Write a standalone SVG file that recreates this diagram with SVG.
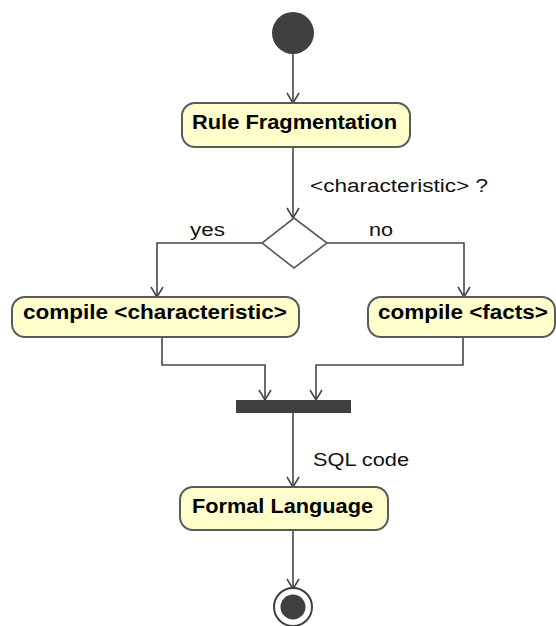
<svg xmlns="http://www.w3.org/2000/svg" width="556" height="626" viewBox="0 0 556 626">
<defs>
<style>
.act{fill:#ffffcc;stroke:#5a5a5a;stroke-width:2}
.at{font-family:"Liberation Sans",Arial,sans-serif;font-weight:bold;font-size:21px;fill:#000}
.lb{font-family:"Liberation Sans",Arial,sans-serif;font-size:18px;fill:#111}
.edge{fill:none;stroke:#474747;stroke-width:1.6}
</style>
<marker id="arr" viewBox="0 0 12 14" refX="11" refY="7" markerWidth="12" markerHeight="14" markerUnits="userSpaceOnUse" orient="auto">
<path d="M1,1 L11,7 L1,13" fill="none" stroke="#474747" stroke-width="1.6"/>
</marker>
</defs>
<rect width="556" height="626" fill="#ffffff"/>
<g id="connectors">
<path class="edge" d="M293,54 V103" marker-end="url(#arr)"/>
<path class="edge" d="M293,147 V218" marker-end="url(#arr)"/>
<path class="edge" d="M262,243 H157 V297" marker-end="url(#arr)"/>
<path class="edge" d="M327,243 H464 V297" marker-end="url(#arr)"/>
<path class="edge" d="M162,337 V365 H265 V400" marker-end="url(#arr)"/>
<path class="edge" d="M463,337 V365 H316 V400" marker-end="url(#arr)"/>
<path class="edge" d="M293,413 V487" marker-end="url(#arr)"/>
<path class="edge" d="M293,530 V589" marker-end="url(#arr)"/>
<text class="lb" x="310" y="192" textLength="178" lengthAdjust="spacingAndGlyphs">&lt;characteristic&gt; ?</text>
<text class="lb" x="190" y="236" textLength="35" lengthAdjust="spacingAndGlyphs">yes</text>
<text class="lb" x="369" y="236" textLength="24" lengthAdjust="spacingAndGlyphs">no</text>
<text class="lb" x="313" y="466" textLength="96" lengthAdjust="spacingAndGlyphs">SQL code</text>
</g>
<g id="start">
<circle cx="293" cy="33" r="21" fill="#404040"/>
</g>
<g id="rule-fragmentation">
<rect class="act" x="182" y="103" width="228" height="44" rx="13"/>
<text class="at" x="192" y="129" textLength="205" lengthAdjust="spacingAndGlyphs">Rule Fragmentation</text>
</g>
<g id="decision">
<polygon points="294,218 327,243 294,268 262,243" fill="#ffffff" stroke="#5a5a5a" stroke-width="1.6"/>
</g>
<g id="compile-characteristic">
<rect class="act" x="12" y="297" width="287" height="40" rx="13"/>
<text class="at" x="23" y="319" textLength="264" lengthAdjust="spacingAndGlyphs">compile &lt;characteristic&gt;</text>
</g>
<g id="compile-facts">
<rect class="act" x="368" y="297" width="187" height="40" rx="13"/>
<text class="at" x="378" y="319" textLength="170" lengthAdjust="spacingAndGlyphs">compile &lt;facts&gt;</text>
</g>
<g id="join">
<rect x="236" y="400" width="115" height="13" fill="#404040"/>
</g>
<g id="formal-language">
<rect class="act" x="180" y="487" width="208" height="43" rx="13"/>
<text class="at" x="192" y="513" textLength="181" lengthAdjust="spacingAndGlyphs">Formal Language</text>
</g>
<g id="end">
<circle cx="293" cy="607" r="19" fill="#ffffff" stroke="#404040" stroke-width="2"/>
<circle cx="293" cy="607" r="12.5" fill="#404040"/>
</g>
</svg>
